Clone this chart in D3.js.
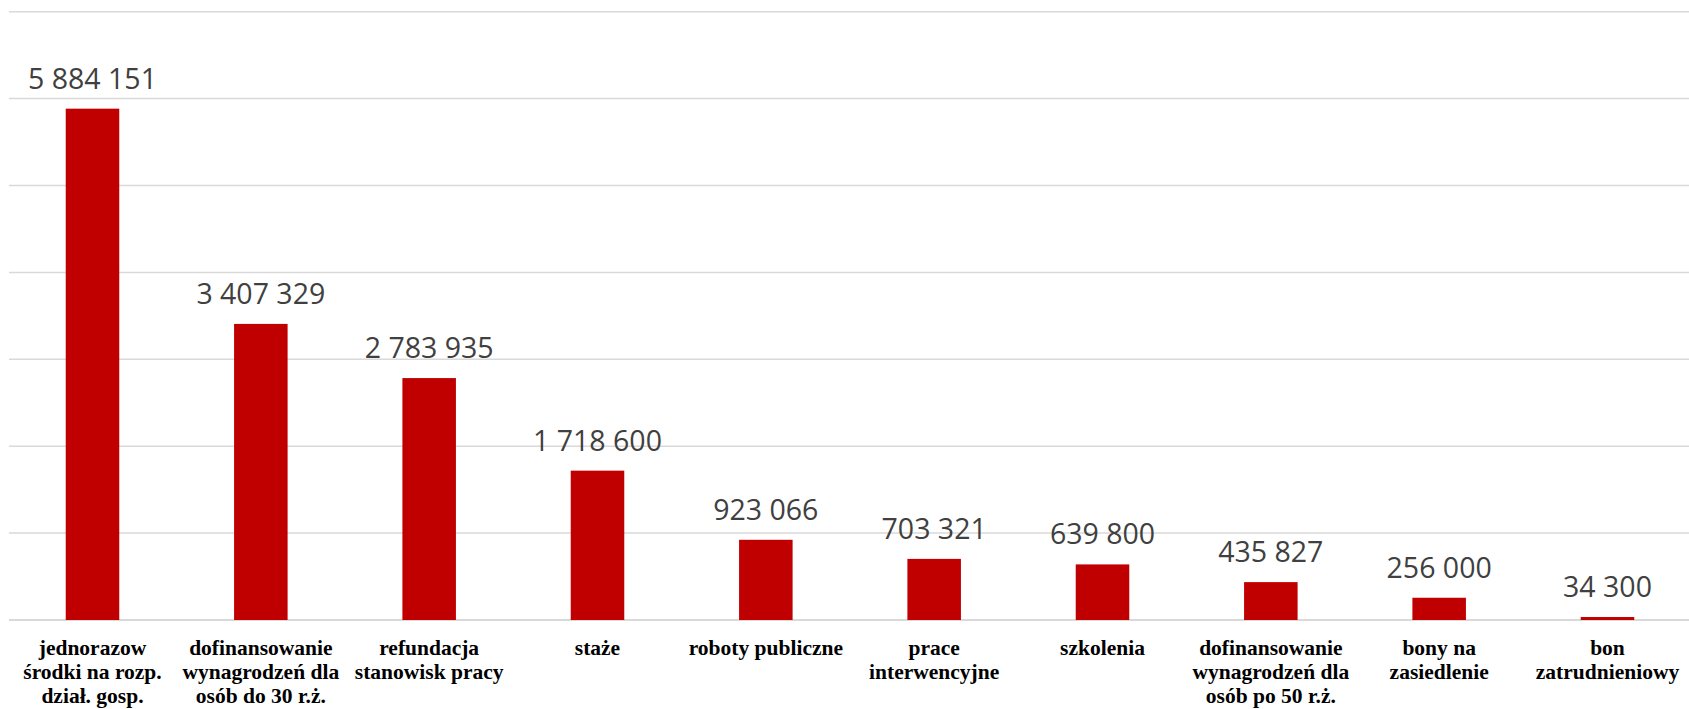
<!DOCTYPE html>
<html>
<head>
<meta charset="utf-8">
<script src="https://cdn.jsdelivr.net/npm/d3@7"></script>
<style>
  html, body { margin: 0; padding: 0; background: #fff; }
  svg { display: block; }
</style>
</head>
<body>
<svg width="1689" height="709"></svg>
<script>
// chart data
const categories = [
  ['jednorazow', 'środki na rozp.', 'dział. gosp.'],
  ['dofinansowanie', 'wynagrodzeń dla', 'osób do 30 r.ż.'],
  ['refundacja', 'stanowisk pracy'],
  ['staże'],
  ['roboty publiczne'],
  ['prace', 'interwencyjne'],
  ['szkolenia'],
  ['dofinansowanie', 'wynagrodzeń dla', 'osób po 50 r.ż.'],
  ['bony na', 'zasiedlenie'],
  ['bon', 'zatrudnieniowy']
];
const values = [5884151, 3407329, 2783935, 1718600, 923066, 703321, 639800, 435827, 256000, 34300];
const yTicks = [0, 1000000, 2000000, 3000000, 4000000, 5000000, 6000000, 7000000];

const svg = d3.select('svg');
const width = +svg.attr('width');
const plot = { left: 8.33, right: 1691.67, top: 11.7, bottom: 620 };

const keys = categories.map((_, i) => i);
const x = d3.scaleBand()
  .domain(keys)
  .range([plot.left, plot.right])
  .paddingInner(0.682)
  .paddingOuter(0.341);
const y = d3.scaleLinear()
  .domain([0, 7000000])
  .range([plot.bottom, plot.top]);

// gridlines
svg.append('g')
  .selectAll('line')
  .data(yTicks)
  .join('line')
  .attr('x1', 9)
  .attr('x2', width)
  .attr('y1', d => y(d))
  .attr('y2', d => y(d))
  .attr('stroke', '#d9d9d9')
  .attr('stroke-width', d => d === 0 ? 1.8 : 1.5);

// bars
svg.append('g')
  .selectAll('rect')
  .data(values)
  .join('rect')
  .attr('x', (d, i) => x(i))
  .attr('y', d => y(d))
  .attr('width', x.bandwidth())
  .attr('height', d => y(0) - y(d))
  .attr('fill', '#c00000');

// value labels
const fmt = v => d3.format(',')(v).replace(/,/g, ' ');
svg.append('g')
  .selectAll('text')
  .data(values)
  .join('text')
  .attr('x', (d, i) => x(i) + x.bandwidth() / 2)
  .attr('y', d => y(d) - 20)
  .attr('text-anchor', 'middle')
  .attr('font-family', '"Open Sans", sans-serif')
  .attr('font-size', 28.5)
  .attr('fill', '#404040')
  .text(d => fmt(d));

// category labels
const cat = svg.append('g')
  .selectAll('text')
  .data(categories)
  .join('text')
  .attr('x', (d, i) => x(i) + x.bandwidth() / 2)
  .attr('y', plot.bottom + 35)
  .attr('text-anchor', 'middle')
  .attr('font-family', '"Liberation Serif", "Times New Roman", serif')
  .attr('font-weight', 'bold')
  .attr('font-size', 21.5)
  .attr('fill', '#000');
cat.each(function (lines) {
  const t = d3.select(this);
  lines.forEach((line, j) => {
    t.append('tspan')
      .attr('x', t.attr('x'))
      .attr('dy', j === 0 ? 0 : 24)
      .text(line);
  });
});
</script>
</body>
</html>
